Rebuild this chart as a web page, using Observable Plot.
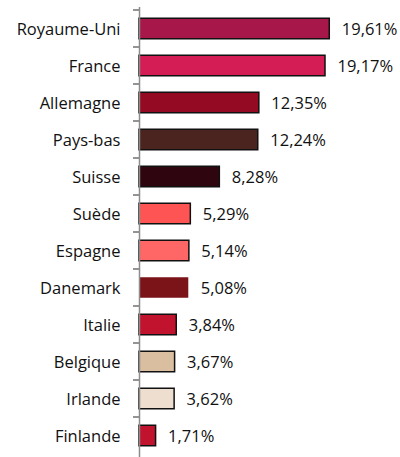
<!DOCTYPE html>
<html>
<head>
<meta charset="utf-8">
<script src="https://cdn.jsdelivr.net/npm/d3@7"></script>
<script src="https://cdn.jsdelivr.net/npm/@observablehq/plot@0.6"></script>
<style>
  html, body { margin: 0; padding: 0; background: #fff; }
  #chart svg { display: block; }
</style>
</head>
<body>
<div id="chart"></div>
<script>
const countries = ["Royaume-Uni", "France", "Allemagne", "Pays-bas", "Suisse", "Suède", "Espagne", "Danemark", "Italie", "Belgique", "Irlande", "Finlande"];
const shares = [19.61, 19.17, 12.35, 12.24, 8.28, 5.29, 5.14, 5.08, 3.84, 3.67, 3.62, 1.71];
const fills = ["#A8174A", "#D51D55", "#930A22", "#4B2420", "#2F0510", "#FF5454", "#FF6666", "#7B1419", "#C1122E", "#D9BEA0", "#EEDECF", "#C1122E"];
const outlined = [true, true, true, true, true, true, true, false, true, true, true, true];

const data = countries.map((c, i) => ({country: c, value: shares[i], fill: fills[i], stroke: outlined[i] ? "#111" : "none"}));
const fmt = v => v.toFixed(2).replace(".", ",") + "%";

const chart = Plot.plot({
  width: 400,
  height: 457,
  marginLeft: 139,
  marginRight: 0,
  marginTop: 7,
  marginBottom: 0,
  style: {fontFamily: "Open Sans, sans-serif", fontSize: "16.5px", color: "#111"},
  x: {domain: [0, 26.9], axis: null},
  y: {domain: countries, padding: 0, label: null, axis: null},
  marks: [
    Plot.barX(data, {
      x: "value", y: "country",
      fill: d => d.fill, stroke: d => d.stroke, strokeWidth: 1.5,
      insetTop: 8.25, insetBottom: 8.25
    }),
    Plot.text(data, {
      x: "value", y: "country", text: d => fmt(d.value),
      textAnchor: "start", dx: 12, dy: 1, fontSize: 16.5, fill: "#111"
    }),
    Plot.text(countries, {
      x: 0, y: d => d, text: d => d,
      textAnchor: "end", dx: -19, dy: 1, fontSize: 16.5, fill: "#111"
    }),
    Plot.axisY({tickSize: 6, tickFormat: () => "", dy: -19, stroke: "#707070", strokeWidth: 1.5, label: null}),
    Plot.ruleX([0], {stroke: "#8c8c8c", strokeWidth: 1.5})
  ]
});
document.getElementById("chart").appendChild(chart);
</script>
</body>
</html>
